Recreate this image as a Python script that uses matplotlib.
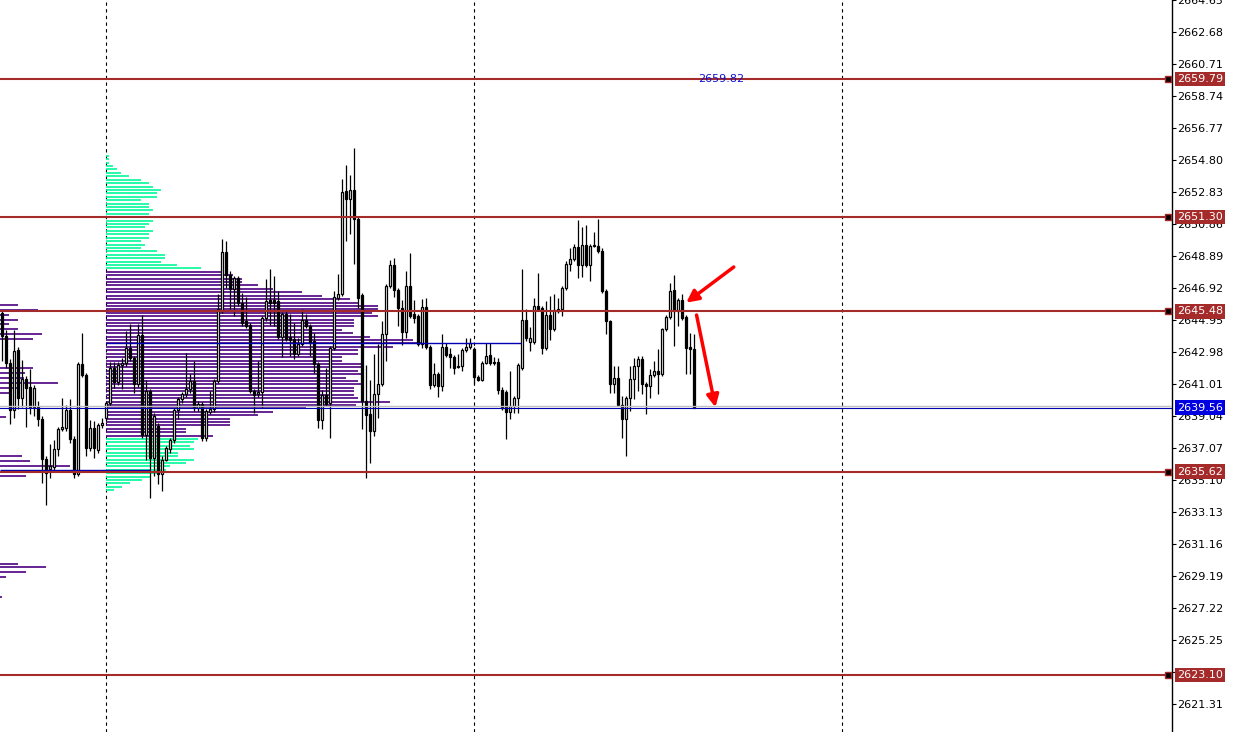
import matplotlib
matplotlib.use("Agg")
import matplotlib.pyplot as plt
import matplotlib.transforms as mtransforms

# ---- candle data (M1-style bars, left to right) ----
opens = [2645.37, 2643.96, 2642.30, 2639.42, 2643.10, 2640.15, 2641.32, 2640.83, 2639.60, 2639.60,
         2638.87, 2636.41, 2635.80, 2635.92, 2637.02, 2638.25, 2638.31, 2639.42, 2637.64, 2635.49,
         2642.24, 2641.56, 2637.09, 2638.31, 2636.96, 2638.50, 2638.93, 2639.85, 2641.99, 2641.13,
         2642.18, 2642.30, 2643.22, 2642.61, 2641.01, 2644.02, 2637.89, 2640.58, 2636.47, 2638.43,
         2635.49, 2636.35, 2637.02, 2637.58, 2639.42, 2640.09, 2640.40, 2640.70, 2641.20, 2639.54,
         2639.79, 2637.70, 2639.30, 2639.48, 2641.20, 2645.49, 2649.17, 2647.70, 2646.84, 2647.52,
         2645.98, 2644.88, 2644.63, 2640.58, 2640.40, 2640.52, 2645.06, 2646.17, 2646.17, 2646.11,
         2643.90, 2645.31, 2643.90, 2643.77, 2642.85, 2643.47, 2644.98, 2644.57, 2643.65, 2642.24,
         2638.80, 2640.33, 2639.85, 2643.22, 2646.29, 2646.54, 2652.92, 2652.43, 2652.98, 2651.20,
         2646.47, 2639.97, 2639.18, 2638.13, 2640.40, 2641.01, 2644.08, 2647.03, 2648.32, 2646.78,
         2645.68, 2644.21, 2647.03, 2645.31, 2645.18, 2643.47, 2645.74, 2643.29, 2640.95, 2641.63,
         2640.89, 2643.29, 2642.85, 2642.67, 2642.06, 2642.12, 2643.10, 2643.29, 2643.16, 2641.44,
         2641.26, 2642.30, 2642.79, 2642.36, 2642.36, 2640.64, 2640.52, 2639.30, 2639.66, 2640.15,
         2641.99, 2644.98, 2643.59, 2643.59, 2645.80, 2645.68, 2643.22, 2645.25, 2644.39, 2645.49,
         2645.62, 2646.90, 2648.38, 2648.68, 2649.42, 2648.32, 2649.60, 2648.32, 2649.54, 2649.54,
         2649.23, 2646.72, 2644.88, 2641.01, 2641.38, 2639.72, 2638.87, 2640.15, 2641.32, 2642.12,
         2642.54, 2641.01, 2640.89, 2641.56, 2641.81, 2641.63, 2644.39, 2645.12, 2646.78, 2645.49,
         2646.17, 2645.12, 2643.29, 2643.16]
highs = [2645.56, 2644.33, 2642.54, 2644.33, 2643.29, 2642.48, 2641.50, 2641.93, 2640.95, 2639.97,
         2639.05, 2636.60, 2637.33, 2637.58, 2638.37, 2640.15, 2639.72, 2640.09, 2637.82, 2642.36,
         2644.15, 2641.69, 2638.80, 2638.74, 2638.62, 2638.93, 2639.97, 2642.36, 2642.36, 2642.36,
         2642.61, 2644.27, 2644.70, 2642.73, 2644.70, 2645.25, 2641.26, 2640.70, 2639.24, 2638.62,
         2636.60, 2637.21, 2637.70, 2639.54, 2640.21, 2640.52, 2642.92, 2641.63, 2642.42, 2639.97,
         2639.91, 2639.48, 2640.58, 2641.32, 2646.54, 2649.97, 2649.79, 2647.95, 2647.64, 2647.64,
         2646.60, 2646.35, 2644.76, 2640.70, 2642.42, 2645.18, 2647.46, 2648.07, 2647.64, 2646.72,
         2645.43, 2645.49, 2645.31, 2644.76, 2643.84, 2645.62, 2645.31, 2644.70, 2644.15, 2642.36,
         2640.64, 2641.99, 2643.34, 2646.72, 2647.76, 2653.65, 2654.51, 2653.90, 2655.55, 2651.32,
         2646.60, 2642.18, 2641.26, 2642.85, 2643.47, 2644.88, 2647.15, 2648.62, 2648.75, 2646.90,
         2646.17, 2647.95, 2649.11, 2646.17, 2645.31, 2646.23, 2646.29, 2643.41, 2642.30, 2641.75,
         2644.08, 2643.53, 2643.22, 2642.79, 2642.85, 2643.22, 2643.84, 2643.84, 2643.29, 2641.56,
         2642.42, 2643.53, 2643.53, 2642.67, 2642.61, 2640.83, 2640.64, 2641.81, 2640.27, 2642.30,
         2648.07, 2645.62, 2644.51, 2646.29, 2647.82, 2645.80, 2646.11, 2646.41, 2646.54, 2646.29,
         2647.03, 2648.56, 2649.36, 2649.66, 2651.14, 2650.65, 2650.83, 2649.66, 2650.40, 2651.20,
         2649.36, 2646.84, 2644.98, 2642.12, 2642.12, 2640.27, 2640.27, 2642.12, 2642.61, 2642.73,
         2642.73, 2641.13, 2641.93, 2642.42, 2643.16, 2644.45, 2645.25, 2647.21, 2647.70, 2646.29,
         2646.54, 2645.25, 2644.15, 2644.08]
lows = [2642.42, 2641.99, 2638.56, 2638.92, 2639.48, 2639.60, 2638.37, 2639.18, 2639.05, 2638.43,
        2634.94, 2633.59, 2635.25, 2635.68, 2636.60, 2638.13, 2638.13, 2637.40, 2635.25, 2635.37,
        2641.44, 2636.60, 2636.90, 2636.47, 2636.78, 2638.31, 2638.74, 2639.66, 2640.76, 2640.95,
        2640.70, 2642.12, 2642.42, 2640.46, 2640.83, 2637.70, 2636.35, 2634.02, 2635.37, 2634.88,
        2634.45, 2636.29, 2636.78, 2637.40, 2638.87, 2639.85, 2640.21, 2640.46, 2639.36, 2639.36,
        2637.52, 2637.52, 2639.18, 2639.30, 2641.07, 2645.37, 2646.90, 2645.62, 2645.18, 2645.80,
        2644.57, 2644.45, 2640.46, 2639.24, 2640.21, 2639.54, 2644.88, 2644.63, 2644.57, 2643.77,
        2642.67, 2643.65, 2642.73, 2642.54, 2642.73, 2643.34, 2644.45, 2642.73, 2641.69, 2638.31,
        2638.25, 2639.66, 2637.70, 2643.10, 2646.17, 2646.41, 2649.79, 2650.22, 2648.38, 2645.68,
        2638.25, 2635.25, 2636.17, 2637.82, 2638.93, 2640.89, 2642.42, 2646.90, 2646.35, 2644.57,
        2643.41, 2643.84, 2645.06, 2644.76, 2643.34, 2643.22, 2643.16, 2640.70, 2640.83, 2640.21,
        2640.58, 2642.67, 2641.99, 2641.63, 2641.99, 2641.81, 2642.98, 2643.16, 2641.01, 2641.20,
        2641.20, 2642.24, 2642.18, 2642.18, 2640.40, 2639.42, 2637.64, 2638.87, 2639.24, 2639.24,
        2641.87, 2643.65, 2643.04, 2643.47, 2645.49, 2642.85, 2643.10, 2643.71, 2644.27, 2645.37,
        2645.18, 2646.78, 2647.95, 2648.56, 2647.52, 2647.58, 2648.19, 2647.33, 2649.42, 2649.11,
        2646.60, 2644.08, 2640.46, 2640.46, 2639.66, 2637.70, 2636.60, 2639.36, 2640.09, 2640.58,
        2640.40, 2639.18, 2640.15, 2641.44, 2640.40, 2641.50, 2644.27, 2645.00, 2643.34, 2644.57,
        2644.94, 2641.63, 2641.63, 2639.54]
closes = [2643.96, 2642.30, 2639.42, 2643.04, 2640.15, 2641.32, 2640.76, 2639.60, 2640.76, 2638.87,
          2636.41, 2635.56, 2635.98, 2637.02, 2638.25, 2638.37, 2639.42, 2637.64, 2635.49, 2642.24,
          2641.56, 2637.09, 2638.31, 2637.09, 2638.50, 2638.62, 2639.85, 2641.99, 2641.13, 2642.18,
          2642.30, 2643.22, 2642.61, 2641.01, 2644.02, 2637.89, 2640.58, 2636.47, 2639.05, 2635.49,
          2636.35, 2637.09, 2637.58, 2639.42, 2640.09, 2640.40, 2640.70, 2641.20, 2639.54, 2639.79,
          2637.70, 2639.36, 2639.48, 2641.20, 2645.62, 2649.17, 2647.70, 2646.84, 2647.52, 2645.98,
          2644.76, 2644.57, 2640.58, 2640.33, 2640.52, 2645.06, 2646.11, 2645.98, 2645.98, 2643.90,
          2645.31, 2643.77, 2643.71, 2642.85, 2643.47, 2644.98, 2644.57, 2643.53, 2642.24, 2638.80,
          2640.33, 2639.79, 2643.22, 2646.35, 2646.54, 2652.85, 2652.43, 2652.98, 2651.20, 2646.29,
          2639.97, 2639.11, 2638.13, 2640.40, 2641.01, 2644.08, 2647.03, 2648.32, 2646.78, 2645.68,
          2644.21, 2647.03, 2645.18, 2645.06, 2643.47, 2645.74, 2643.29, 2640.95, 2641.63, 2640.89,
          2643.29, 2642.79, 2642.67, 2641.99, 2642.12, 2643.10, 2643.29, 2643.53, 2641.44, 2641.26,
          2642.30, 2642.73, 2642.30, 2642.30, 2640.64, 2639.54, 2639.30, 2639.66, 2640.15, 2642.18,
          2644.98, 2643.84, 2643.84, 2645.80, 2645.62, 2643.22, 2645.25, 2644.39, 2645.55, 2645.62,
          2646.90, 2648.38, 2648.68, 2649.42, 2648.32, 2649.60, 2648.32, 2649.54, 2649.60, 2649.23,
          2646.72, 2644.88, 2641.01, 2641.38, 2639.72, 2638.87, 2640.15, 2641.32, 2642.12, 2642.54,
          2641.01, 2640.89, 2641.56, 2641.81, 2641.63, 2644.39, 2645.12, 2646.72, 2645.49, 2646.17,
          2645.06, 2643.22, 2643.16, 2639.56]

# ---- volume profile of the session (top level down), step 0.21 ----
vp_top = 2655.06
vp_step = 0.21
vp_vol = [3, 3, 3, 7, 11, 15, 23, 35, 43, 47, 55, 51, 51, 35, 43, 43, 47, 43, 45, 47,
          43, 39, 47, 43, 43, 35, 39, 35, 51, 59, 59, 55, 71, 95,
          115, 127, 136, 136, 152, 167, 196, 216, 244, 252, 272, 272, 266, 272, 248, 248,
          248, 236, 247, 264, 307, 315, 287, 252, 252, 236, 236, 256, 256, 252, 256, 240,
          252, 256, 248, 248, 248, 252, 284, 250, 200, 167, 152, 124, 124, 124, 80, 80, 107,
          92, 88, 84, 88, 72, 72, 88, 80, 64, 60, 52, 44, 36, 24, 16, 8]
va_first, va_last = 34, 82   # value area rows

# previous session profile tail (left edge)
prev_levels = [2645.86, 2645.55, 2645.25, 2644.94, 2644.70, 2644.39, 2644.08, 2643.77,
               2641.99, 2641.69, 2641.38, 2641.07, 2640.76, 2640.46, 2638.99,
               2636.60, 2636.29, 2635.98, 2635.37, 2629.97, 2629.73, 2629.42, 2629.11, 2627.89]
prev_vol = [18, 38, 9, 18, 9, 18, 42, 33, 33, 25, 24, 58, 18, 9, 6,
            22, 30, 70, 26, 18, 46, 26, 6, 2]

levels_red = [2659.79, 2651.30, 2645.48, 2635.62, 2623.10]
level_labels = ["2659.79", "2651.30", "2645.48", "2635.62", "2623.10"]
last_price = 2639.56
poc_price = 2643.53
prev_val = 2635.74
ticks = [2664.65, 2662.68, 2660.71, 2658.74, 2656.77, 2654.80, 2652.83, 2650.86, 2648.89,
         2646.92, 2644.95, 2642.98, 2641.01, 2639.04, 2637.07, 2635.10, 2633.13, 2631.16,
         2629.19, 2627.22, 2625.25, 2623.28, 2621.31]
session_starts = [26, 118, 210]

RED = "#A52A2A"
CYAN = "#00FA9A"
PURPLE = "#4B0082"

fig = plt.figure(figsize=(12.43, 7.32), dpi=100)
ax = fig.add_axes([0, 0, 1172 / 1243, 1])
ax.set_xlim(-0.5, 292.5)
ax.set_ylim(2619.60, 2664.51)

# session separators
for s in session_starts:
    ax.axvline(s, color="black", lw=0.8, linestyle=(0, (3, 3)), zorder=1)

# volume profile
px = 0.25  # one pixel of profile length in bar units
for k, v in enumerate(vp_vol):
    lvl = vp_top - k * vp_step
    col = PURPLE if va_first <= k <= va_last else CYAN
    ax.hlines(lvl, 26, 26 + v * px, color=col, lw=1.2, zorder=1)
for lvl, v in zip(prev_levels, prev_vol):
    ax.hlines(lvl, -0.5, -0.5 + v * px, color=PURPLE, lw=1.2, zorder=1)

# candles
for i in range(len(opens)):
    o, h, l, c = opens[i], highs[i], lows[i], closes[i]
    ax.vlines(i, l, h, color="black", lw=0.9, zorder=3)
    bot = min(o, c)
    hgt = max(abs(c - o), 0.05)
    fc = "white" if c >= o else "black"
    ax.bar(i, hgt, bottom=bot, width=0.6, facecolor=fc, edgecolor="black", lw=0.9, zorder=4)

# bid/ask and POC lines
ax.axhline(last_price + 0.12, color="#C0C0C0", lw=1.0, zorder=5)
ax.axhline(last_price, color="#0000B0", lw=0.8, zorder=5)
ax.hlines(poc_price, 26, 129.75, color="#0000B0", lw=1.0, zorder=5)
ax.hlines(prev_val, -0.5, 37, color="#0000B0", lw=1.0, zorder=5)

# red levels
for lv in levels_red:
    ax.axhline(lv, color=RED, lw=1.5, zorder=6)
    ax.plot(291.5, lv, marker="s", ms=4.5, mfc="black", mec=RED, mew=1, clip_on=False, zorder=7)

ax.text(179.75, 2659.79, "2659.82", color="#1010D0", fontsize=8, ha="center", va="center", zorder=7)

# arrows
ax.annotate("", xy=(170.5, 2645.92), xytext=(183.5, 2648.32),
            arrowprops=dict(arrowstyle="-|>", color="red", lw=2.5, mutation_scale=18), zorder=8)
ax.annotate("", xy=(178.5, 2639.42), xytext=(173.5, 2645.43),
            arrowprops=dict(arrowstyle="-|>", color="red", lw=2.5, mutation_scale=18), zorder=8)

# right price scale
for sp in ["top", "left", "bottom"]:
    ax.spines[sp].set_visible(False)
ax.spines["right"].set_color("black")
ax.spines["right"].set_linewidth(1.0)
ax.set_xticks([])
ax.yaxis.tick_right()
ax.set_yticks(ticks)
ax.set_yticklabels(["%.2f" % t for t in ticks])
ax.tick_params(axis="y", length=3, width=0.8, pad=1, labelsize=8, colors="black")

tr = mtransforms.offset_copy(ax.get_yaxis_transform(), fig=fig, x=5 * 0.72, units="points")
for lv, lab in zip(levels_red, level_labels):
    ax.text(1.0, lv, lab, transform=tr, color="white", fontsize=8, ha="left", va="center",
            bbox=dict(boxstyle="square,pad=0.2", fc=RED, ec="none"), clip_on=False, zorder=9)
ax.text(1.0, last_price, "%.2f" % last_price, transform=tr, color="white", fontsize=8,
        ha="left", va="center", bbox=dict(boxstyle="square,pad=0.2", fc="#0000E0", ec="none"),
        clip_on=False, zorder=9)

fig.savefig("out.png", dpi=100)
